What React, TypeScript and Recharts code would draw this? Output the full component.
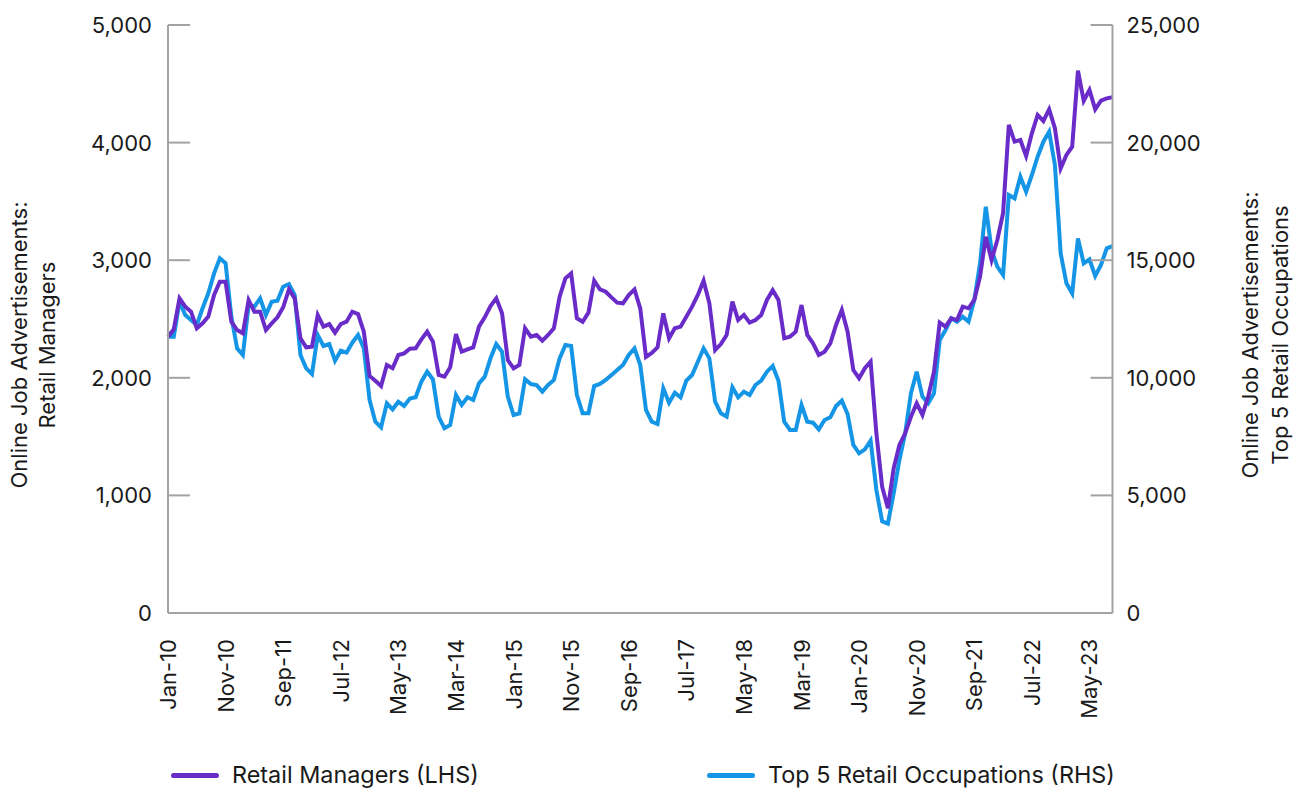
import React from 'react';
import { LineChart, Line, XAxis, YAxis, Legend, Label } from 'recharts';

const MONTH_NAMES = ['Jan', 'Feb', 'Mar', 'Apr', 'May', 'Jun', 'Jul', 'Aug', 'Sep', 'Oct', 'Nov', 'Dec'];
const START_YEAR = 2010;

// Retail Managers (LHS), monthly Jan-10 .. Sep-23
const retailManagers = [
  2350, 2412, 2676, 2605, 2562, 2421, 2463, 2520, 2704, 2817, 2817, 2477,
  2406, 2378, 2661, 2562, 2562, 2406, 2463, 2514, 2600, 2752, 2676, 2336,
  2259, 2265, 2534, 2435, 2457, 2384, 2457, 2477, 2562, 2542, 2392, 2015,
  1975, 1930, 2109, 2081, 2194, 2208, 2248, 2251, 2327, 2392, 2307, 2024,
  2009, 2089, 2372, 2222, 2242, 2259, 2435, 2514, 2610, 2676, 2548, 2151,
  2081, 2109, 2421, 2350, 2364, 2316, 2364, 2421, 2690, 2846, 2888, 2506,
  2477, 2554, 2826, 2752, 2732, 2684, 2639, 2633, 2704, 2752, 2591, 2177,
  2211, 2259, 2548, 2336, 2421, 2435, 2520, 2605, 2704, 2826, 2633, 2236,
  2287, 2364, 2647, 2491, 2534, 2469, 2491, 2534, 2662, 2745, 2662, 2336,
  2350, 2392, 2619, 2364, 2293, 2194, 2222, 2293, 2449, 2577, 2392, 2066,
  1996, 2081, 2137, 1528, 1074, 890, 1230, 1429, 1528, 1669, 1783, 1684,
  1839, 2052, 2469, 2435, 2506, 2491, 2605, 2591, 2662, 2860, 3200, 3002,
  3172, 3399, 4150, 4008, 4022, 3886, 4079, 4235, 4184, 4283, 4122, 3781,
  3895, 3965, 4611, 4356, 4447, 4283, 4356, 4376, 4385,
];

// Top 5 Retail Occupations (RHS), monthly Jan-10 .. Sep-23
const top5Retail = [
  11750, 11750, 13237, 12670, 12457, 12245, 12955, 13592, 14442, 15080, 14867, 12598,
  11255, 10970, 13095, 13024, 13378, 12670, 13237, 13279, 13874, 13988, 13520, 10969,
  10403, 10161, 11819, 11352, 11437, 10727, 11153, 11068, 11493, 11819, 11254, 9056,
  8135, 7895, 8916, 8660, 8985, 8802, 9114, 9171, 9835, 10260, 9935, 8347,
  7852, 7993, 9269, 8844, 9171, 9056, 9765, 10048, 10830, 11437, 11110, 9198,
  8418, 8489, 9940, 9736, 9694, 9411, 9694, 9906, 10827, 11395, 11352, 9269,
  8489, 8489, 9651, 9736, 9906, 10119, 10331, 10544, 10969, 11253, 10544, 8631,
  8135, 8035, 9552, 8941, 9367, 9170, 9877, 10119, 10685, 11253, 10828, 8985,
  8489, 8347, 9594, 9170, 9411, 9269, 9694, 9877, 10261, 10500, 9877, 8135,
  7781, 7781, 8844, 8135, 8092, 7810, 8206, 8319, 8801, 9027, 8461, 7143,
  6789, 6959, 7326, 5230, 3900, 3800, 5089, 6505, 7640, 9341, 10261, 9197,
  8916, 9341, 11607, 12032, 12529, 12386, 12599, 12386, 13307, 14867, 17275, 15433,
  14725, 14371, 17771, 17630, 18551, 17914, 18622, 19400, 20038, 20464, 19047, 15291,
  14016, 13591, 15929, 14867, 15037, 14328, 14795, 15504, 15600,
];

const leftTicks = [0, 1000, 2000, 3000, 4000, 5000];
const rightTicks = [0, 5000, 10000, 15000, 20000, 25000];

const SERIES_NAMES = ['Retail Managers (LHS)', 'Top 5 Retail Occupations (RHS)'];
const LEFT_TITLE = ['Online Job Advertisements:', 'Retail Managers'];
const RIGHT_TITLE = ['Online Job Advertisements:', 'Top 5 Retail Occupations'];

const months = retailManagers.map((_, i) => {
  const y = (START_YEAR + Math.floor(i / 12)) % 100;
  return `${MONTH_NAMES[i % 12]}-${String(y).padStart(2, '0')}`;
});

const data = months.map((m, i) => ({ month: m, managers: retailManagers[i], top5: top5Retail[i] }));

const PURPLE = '#6a2cc9';
const BLUE = '#1595e6';
const AXIS = '#a3a3a3';
const TEXT = '#1a1a1a';
const FONT = 'Inter, "Noto Sans", sans-serif';
const FS = 22;
const LEGEND_FS = 23.4;

const fmt = (v: number) => v.toLocaleString('en-US');

const LeftTick = (props: any) => {
  const { x, y, payload } = props;
  return (
    <g>
      <line x1={x + 16} x2={x + 38} y1={y} y2={y} stroke={AXIS} strokeWidth={2} />
      <text x={x} y={y} textAnchor="end" dominantBaseline="central" fontSize={FS} fill={TEXT} fontFamily={FONT}>
        {fmt(payload.value)}
      </text>
    </g>
  );
};

const RightTick = (props: any) => {
  const { x, y, payload } = props;
  return (
    <g>
      <line x1={x - 14} x2={x - 36} y1={y} y2={y} stroke={AXIS} strokeWidth={2} />
      <text x={x} y={y} textAnchor="start" dominantBaseline="central" fontSize={FS} fill={TEXT} fontFamily={FONT}>
        {fmt(payload.value)}
      </text>
    </g>
  );
};

const XTick = (props: any) => {
  const { x, y, payload } = props;
  return (
    <text
      x={x}
      y={y}
      transform={`rotate(-90 ${x} ${y})`}
      textAnchor="end"
      dominantBaseline="central"
      fontSize={FS}
      fill={TEXT}
      fontFamily={FONT}
    >
      {payload.value}
    </text>
  );
};

const makeTitle = (lines: string[], dx1: number, dx2: number, cy: number) => (props: any) => {
  const vb = props.viewBox || {};
  const x0 = vb.x ?? 0;
  return (
    <g>
      {lines.map((t, k) => {
        const tx = x0 + (k === 0 ? dx1 : dx2);
        return (
          <text
            key={k}
            x={tx}
            y={cy}
            transform={`rotate(-90 ${tx} ${cy})`}
            textAnchor="middle"
            dominantBaseline="central"
            fontSize={FS}
            fill={TEXT}
            fontFamily={FONT}
          >
            {t}
          </text>
        );
      })}
    </g>
  );
};

const legendItems = [
  { name: SERIES_NAMES[0], color: PURPLE, left: 171 },
  { name: SERIES_NAMES[1], color: BLUE, left: 707 },
];

const LegendContent = () => (
  <div style={{ position: 'relative', width: 1300, height: 30, fontFamily: FONT, fontSize: LEGEND_FS, color: TEXT }}>
    {legendItems.map((it) => (
      <div key={it.name} style={{ position: 'absolute', left: it.left, top: 0, height: 30, display: 'flex', alignItems: 'center', whiteSpace: 'nowrap', lineHeight: '28px' }}>
        <div style={{ width: 48, height: 5, borderRadius: 3, background: it.color, marginRight: 13 }} />
        <span>{it.name}</span>
      </div>
    ))}
  </div>
);

export default function App() {
  return (
    <div style={{ width: 1300, height: 791, position: 'relative', overflow: 'hidden', background: '#fff' }}>
      <style>{`body{margin:0;overflow:hidden;background:#fff}`}</style>
      <LineChart width={1300} height={791} data={data} margin={{ top: 25, right: 0, bottom: 98, left: 0 }}>
        <XAxis
          dataKey="month"
          interval={9}
          tickSize={0}
          tickMargin={26}
          tickLine={false}
          axisLine={{ stroke: AXIS, strokeWidth: 2 }}
          tick={<XTick />}
          height={80}
        />
        <YAxis
          yAxisId="left"
          orientation="left"
          domain={[0, 5000]}
          ticks={leftTicks}
          width={168}
          tickSize={0}
          tickMargin={16}
          tickLine={false}
          axisLine={{ stroke: AXIS, strokeWidth: 2 }}
          tick={<LeftTick />}
        >
          <Label content={makeTitle(LEFT_TITLE, 19, 47, 345)} />
        </YAxis>
        <YAxis
          yAxisId="right"
          orientation="right"
          domain={[0, 25000]}
          ticks={rightTicks}
          width={187.5}
          tickSize={0}
          tickMargin={14}
          tickLine={false}
          axisLine={{ stroke: AXIS, strokeWidth: 2 }}
          tick={<RightTick />}
        >
          <Label content={makeTitle(RIGHT_TITLE, 137, 167, 335)} />
        </YAxis>
        <Legend
          layout="vertical"
          align="center"
          verticalAlign="middle"
          wrapperStyle={{ position: 'absolute', top: 760, left: 0, width: 1300 }}
          content={<LegendContent />}
        />
        <Line
          yAxisId="right"
          dataKey="top5"
          name={SERIES_NAMES[1]}
          stroke={BLUE}
          strokeWidth={4}
          dot={false}
          activeDot={false}
          isAnimationActive={false}
        />
        <Line
          yAxisId="left"
          dataKey="managers"
          name={SERIES_NAMES[0]}
          stroke={PURPLE}
          strokeWidth={4}
          dot={false}
          activeDot={false}
          isAnimationActive={false}
        />
      </LineChart>
    </div>
  );
}
